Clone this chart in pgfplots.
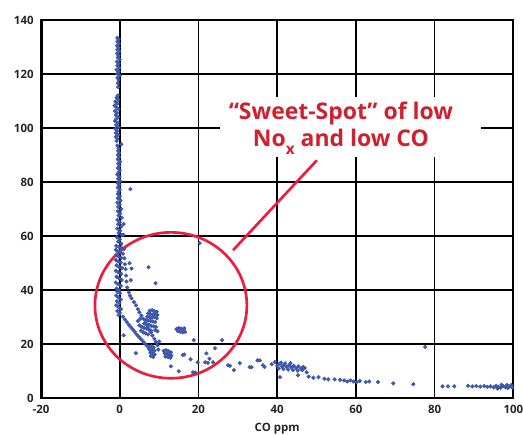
\documentclass[border=0pt]{standalone}
\usepackage{fontspec}
\setmainfont{Open Sans}
\usepackage{pgfplots}
\pgfplotsset{compat=1.18}
\definecolor{ptblue}{RGB}{62,88,172}
\definecolor{circred}{RGB}{236,30,62}
\definecolor{txtred}{RGB}{208,32,48}
\begin{document}
\begin{tikzpicture}
\begin{axis}[
  scale only axis, width=354pt, height=283.5pt,
  xmin=-20, xmax=100, ymin=0, ymax=140,
  xtick={-20,0,...,100}, ytick={0,20,...,140},
  grid=major, major grid style={black, line width=1.3pt},
  axis line style={line width=1.6pt},
  major tick length=0pt,
  /pgf/number format/assume math mode=true,
  tick label style={font=\bfseries\fontsize{8.6}{10}\selectfont, text=black!85},
  yticklabel style={xshift=-2pt},
  xticklabel style={yshift=-2pt},
  xlabel={CO ppm},
  xlabel style={at={(axis description cs:0.5,0)}, anchor=base, yshift=-24.75pt, font=\bfseries\fontsize{8.6}{10}\selectfont, text=black!85},
]
\addplot[only marks, mark=*, mark size=1.35pt, color=ptblue] table {
x y
-0.6 133.4
-0.3 132.8
-0.6 132.0
-0.2 131.3
-0.7 130.5
-0.3 129.8
-0.6 129.0
-0.1 128.4
-0.7 127.6
-0.3 126.9
-0.5 126.1
0.0 125.4
-0.7 124.6
-0.3 123.9
-0.6 123.1
-0.1 122.4
-0.8 121.6
-0.3 120.9
-0.6 120.1
0.0 119.4
-0.6 118.6
-0.3 117.8
-0.5 116.6
-0.4 115.2
-0.5 112.0
-0.8 111.2
-0.4 110.5
-1.1 109.8
-0.6 109.1
-1.3 108.3
-0.8 107.6
-0.3 107.0
-1.2 106.3
-0.7 105.6
-1.0 104.8
-0.4 104.1
-0.9 103.3
-1.2 102.6
-0.5 101.9
-0.9 101.1
-0.3 100.4
-1.1 99.7
-0.6 98.9
-1.0 98.2
-0.4 97.5
-1.0 96.8
-0.6 96.0
-0.8 95.2
0.4 94.0
-0.6 93.5
-0.3 92.5
-0.4 91.6
-0.1 90.8
-0.5 90.0
-0.2 89.2
-0.5 88.4
0.1 87.6
-0.4 86.8
-0.1 86.0
-0.5 85.2
0.0 84.4
-0.3 83.6
-0.6 82.8
-0.1 82.0
-0.4 81.2
0.1 80.4
-0.5 79.6
-0.1 78.8
-0.5 78.0
0.0 77.2
-0.3 76.4
-0.5 75.6
0.0 74.8
2.7 77.4
-0.5 74.0
0.2 73.2
-0.6 72.4
0.0 71.6
-0.4 70.8
0.4 70.0
-0.5 69.2
0.1 68.4
-0.3 67.6
0.5 66.8
-0.6 66.0
0.0 65.2
-0.4 64.4
0.4 63.6
-0.6 62.8
0.1 62.0
-0.3 61.2
0.5 60.4
-0.7 59.6
0.0 58.8
-0.4 58.0
0.4 57.2
1.0 64.5
0.9 60.5
-0.9 56.4
-0.2 56.0
0.5 55.6
1.1 55.2
-1.0 55.0
-0.5 54.4
0.2 54.0
0.8 53.5
-0.9 53.0
-0.3 52.5
0.4 52.0
1.2 51.8
-1.0 51.2
-0.4 50.6
0.3 50.2
1.3 49.6
-0.8 49.2
-0.2 48.6
0.6 48.2
1.5 47.8
-1.0 47.2
-0.4 46.6
0.4 46.0
1.6 45.4
-0.8 45.0
-0.2 44.4
0.5 43.8
1.7 43.2
-1.0 42.8
-0.4 42.2
0.3 41.6
1.9 41.0
-0.8 40.6
-0.2 40.0
2.3 39.2
2.5 50.0
2.8 43.7
3.0 48.0
-0.6 39.4
0.1 38.8
-0.9 38.0
-0.3 37.3
0.3 36.6
-0.7 35.9
-0.1 35.2
-0.9 34.4
-0.3 33.7
0.3 33.0
-0.6 32.3
0.0 31.6
-0.3 30.8
2.6 38.0
3.0 37.0
3.6 35.6
4.1 34.4
4.6 33.0
5.0 31.8
5.5 30.6
6.0 29.4
6.5 28.0
7.0 26.8
7.4 25.6
7.9 24.4
8.3 23.2
8.8 22.0
9.2 20.8
9.6 19.6
0.8 30.2
1.3 29.2
1.8 28.2
2.3 27.2
2.8 26.3
3.3 25.5
3.8 24.6
4.3 23.6
4.8 22.8
5.3 22.0
5.8 21.2
6.3 20.4
6.8 19.6
7.3 18.6
7.7 17.8
7.6 32.4
8.2 32.6
8.8 32.2
9.4 32.0
7.2 31.4
7.8 31.2
8.4 31.0
9.0 31.2
9.6 30.8
7.0 30.2
7.6 30.0
8.2 29.8
8.8 30.0
9.4 29.6
6.6 29.0
7.2 28.8
7.8 28.6
8.4 28.4
9.0 28.2
6.2 27.6
6.8 27.4
7.4 27.2
8.0 26.8
8.6 26.6
9.2 26.4
5.6 26.4
6.2 26.0
6.8 25.8
7.4 25.4
8.0 25.0
9.0 25.2
9.6 24.8
5.0 27.0
5.4 25.0
6.0 24.4
6.6 24.0
7.2 23.6
4.6 28.6
5.2 29.4
14.4 25.6
15.0 26.0
15.6 25.8
16.2 25.4
14.8 24.8
15.4 24.6
16.0 24.4
16.6 24.6
15.2 25.3
16.4 25.9
11.2 17.6
11.8 17.8
12.4 17.4
13.0 17.0
11.4 16.6
12.0 16.4
12.6 16.0
13.1 15.8
11.6 15.4
12.3 15.2
12.9 15.0
7.4 19.0
8.0 19.2
8.6 18.8
7.6 18.0
8.2 17.8
8.8 17.6
7.8 16.8
8.4 16.6
8.9 16.2
7.9 15.6
8.5 15.3
7.3 48.5
9.1 42.6
20.3 57.4
1.0 23.3
4.1 16.7
13.0 11.8
15.0 10.0
16.0 16.0
16.4 16.2
18.0 14.4
18.8 21.5
19.8 13.3
21.7 13.3
22.4 13.1
23.7 13.3
24.2 18.5
26.0 21.5
27.5 12.2
28.0 12.0
29.0 10.4
30.5 13.0
33.0 11.5
33.5 11.5
35.0 14.0
35.6 14.0
36.4 12.2
36.8 11.6
18.6 9.6
19.2 9.5
10.0 21.0
9.8 18.0
22.0 16.6
22.8 14.6
38.6 12.6
39.4 13.4
40.0 12.0
40.6 12.8
41.2 11.8
41.8 12.4
42.4 11.6
43.0 12.2
43.6 11.4
44.2 12.0
44.8 11.2
45.4 11.8
46.0 11.0
46.6 11.6
40.4 11.0
41.6 10.8
42.8 10.6
44.0 10.4
45.2 10.2
46.4 10.4
47.0 11.2
41.0 13.2
42.0 12.9
43.4 13.0
40.7 7.8
45.3 8.5
47.5 9.6
48.0 8.0
49.2 7.6
50.5 7.8
52.0 7.2
53.0 7.0
54.6 7.0
56.0 6.8
57.0 6.6
57.8 6.2
58.6 6.6
59.4 6.2
60.2 6.0
61.0 6.4
62.5 6.0
63.4 6.2
65.6 6.0
69.5 5.5
74.6 5.2
77.6 19.0
82.0 4.4
83.4 4.4
85.0 4.4
88.5 4.6
89.6 4.4
90.6 4.5
91.6 4.3
92.6 4.5
93.4 4.2
94.2 4.4
95.0 4.0
95.6 4.6
96.2 4.2
96.8 3.9
97.4 4.5
98.0 4.1
98.6 3.8
99.2 4.4
99.7 4.0
97.0 5.0
98.4 4.9
99.5 4.9
96.0 3.6
};
\draw[line width=2.3pt, black] (axis cs:-20,140) -- (axis cs:-20,0) -- (axis cs:100,0);
\fill[white] (axis cs:25.4,89.3) rectangle (axis cs:91.9,111.5);
\draw[circred, line width=2pt] (axis cs:13,34.4) ellipse [x radius=19.3, y radius=27];
\draw[circred, line width=2pt] (axis cs:28.8,54.8) -- (axis cs:50.1,88.1);
\node[anchor=base, text=txtred, font=\bfseries\fontsize{17.2}{19}\selectfont, inner sep=0pt] at (axis cs:56.2,103) {“Sweet-Spot” of low};
\node[anchor=base, text=txtred, font=\bfseries\fontsize{17.2}{19}\selectfont, inner sep=0pt] at (axis cs:56.2,93.1) {No\raisebox{-6pt}{\fontsize{11.5}{11.5}\selectfont x} and low CO};
\end{axis}
\pgfresetboundingbox
\useasboundingbox (-30.75pt,-27pt) rectangle (361.25pt,298.5pt);
\end{tikzpicture}
\end{document}
